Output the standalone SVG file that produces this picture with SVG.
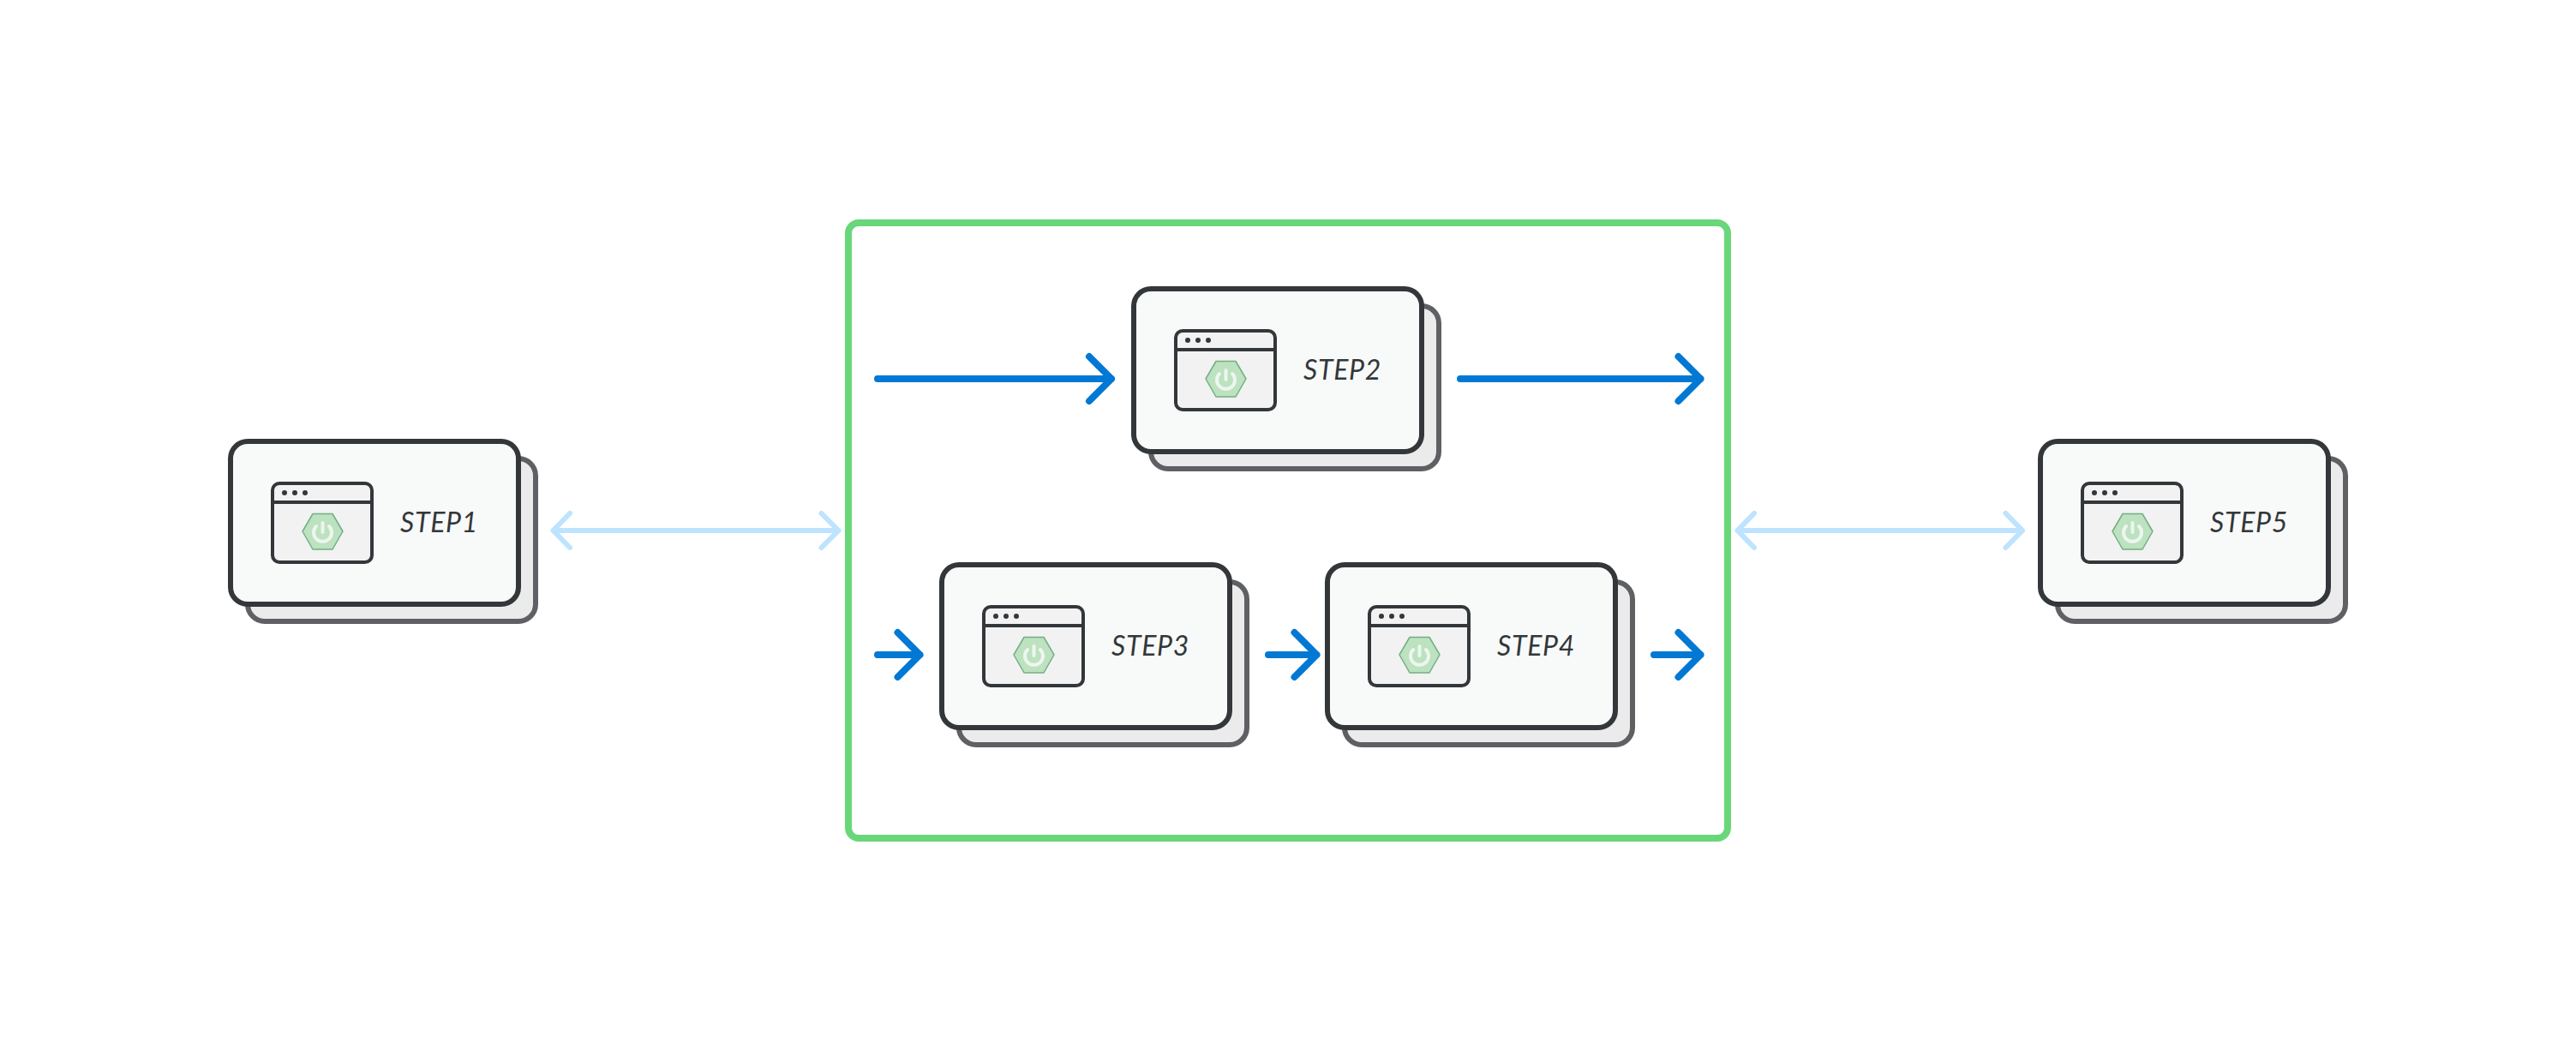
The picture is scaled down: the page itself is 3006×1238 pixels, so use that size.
<svg xmlns="http://www.w3.org/2000/svg" xmlns:xlink="http://www.w3.org/1999/xlink" width="3006" height="1238" viewBox="0 0 3006 1238">
<style>
.back{fill:#ebebeb;stroke:#5f6063;stroke-width:6}
.front{fill:#f8faf9;stroke:#33373a;stroke-width:6}
.win{fill:#f2f2f2;stroke:#33373a;stroke-width:4}
.bar{fill:none;stroke:#33373a;stroke-width:4}
.dot{fill:#33373a}
.hex{fill:#bce2bf;stroke:#74ae85;stroke-width:1.5;stroke-linejoin:round}
.pw{fill:none;stroke:#eef5ef;stroke-width:4;stroke-linecap:round}
.lbl{font-family:"Lato","Noto Sans",sans-serif;font-style:italic;font-size:32px;letter-spacing:.7px;fill:#33373a}
.flow{fill:none;stroke:#0078d4;stroke-width:8;stroke-linecap:round;stroke-linejoin:round}
.sync{fill:none;stroke:#bde3ff;stroke-width:6;stroke-linecap:round;stroke-linejoin:round}
</style>
<defs>
<g id="card">
<rect class="back" x="289" y="535" width="336" height="190" rx="20"/>
<rect class="front" x="269" y="515" width="336" height="190" rx="20"/>
<rect class="win" x="318" y="564" width="116" height="92" rx="8"/>
<path class="bar" d="M318 586H434"/>
<circle class="dot" cx="332" cy="575" r="3"/><circle class="dot" cx="344" cy="575" r="3"/><circle class="dot" cx="356" cy="575" r="3"/>
<path class="hex" d="M353 620L365 599.5H388L400 620L388 641H365Z"/>
<path class="pw" d="M369 614A10.5 10.5 0 1 0 384 614M376.5 610V621"/>
</g>
</defs>
<rect width="3006" height="1238" fill="#fff"/>
<rect id="group" x="990" y="260" width="1026" height="718" rx="12" fill="#fff" stroke="#69d67a" stroke-width="8"/>
<g id="connectors">
<path class="sync" d="M645.5 619H978.5M665 599L645.5 619L665 639M958.5 599L978.5 619L958.5 639"/>
<path class="sync" d="M2027.5 619H2360M2047 599L2027.5 619L2047 639M2340.5 599L2360 619L2340.5 639"/>
<path class="flow" d="M1024 442H1297M1271 416L1297 442L1271 468"/>
<path class="flow" d="M1704 442H1984.5M1958.5 416L1984.5 442L1958.5 468"/>
<path class="flow" d="M1024 764H1073.5M1047.5 738L1073.5 764L1047.5 790"/>
<path class="flow" d="M1480 764H1536.5M1510.5 738L1536.5 764L1510.5 790"/>
<path class="flow" d="M1930 764H1984.5M1958.5 738L1984.5 764L1958.5 790"/>
</g>
<g id="step1"><use xlink:href="#card" href="#card"/><text class="lbl" x="467" y="621">STEP1</text></g>
<g id="step2" transform="translate(1054,-178)"><use xlink:href="#card" href="#card"/><text class="lbl" x="467" y="621">STEP2</text></g>
<g id="step3" transform="translate(830,144)"><use xlink:href="#card" href="#card"/><text class="lbl" x="467" y="621">STEP3</text></g>
<g id="step4" transform="translate(1280,144)"><use xlink:href="#card" href="#card"/><text class="lbl" x="467" y="621">STEP4</text></g>
<g id="step5" transform="translate(2112,0)"><use xlink:href="#card" href="#card"/><text class="lbl" x="467" y="621">STEP5</text></g>
</svg>
